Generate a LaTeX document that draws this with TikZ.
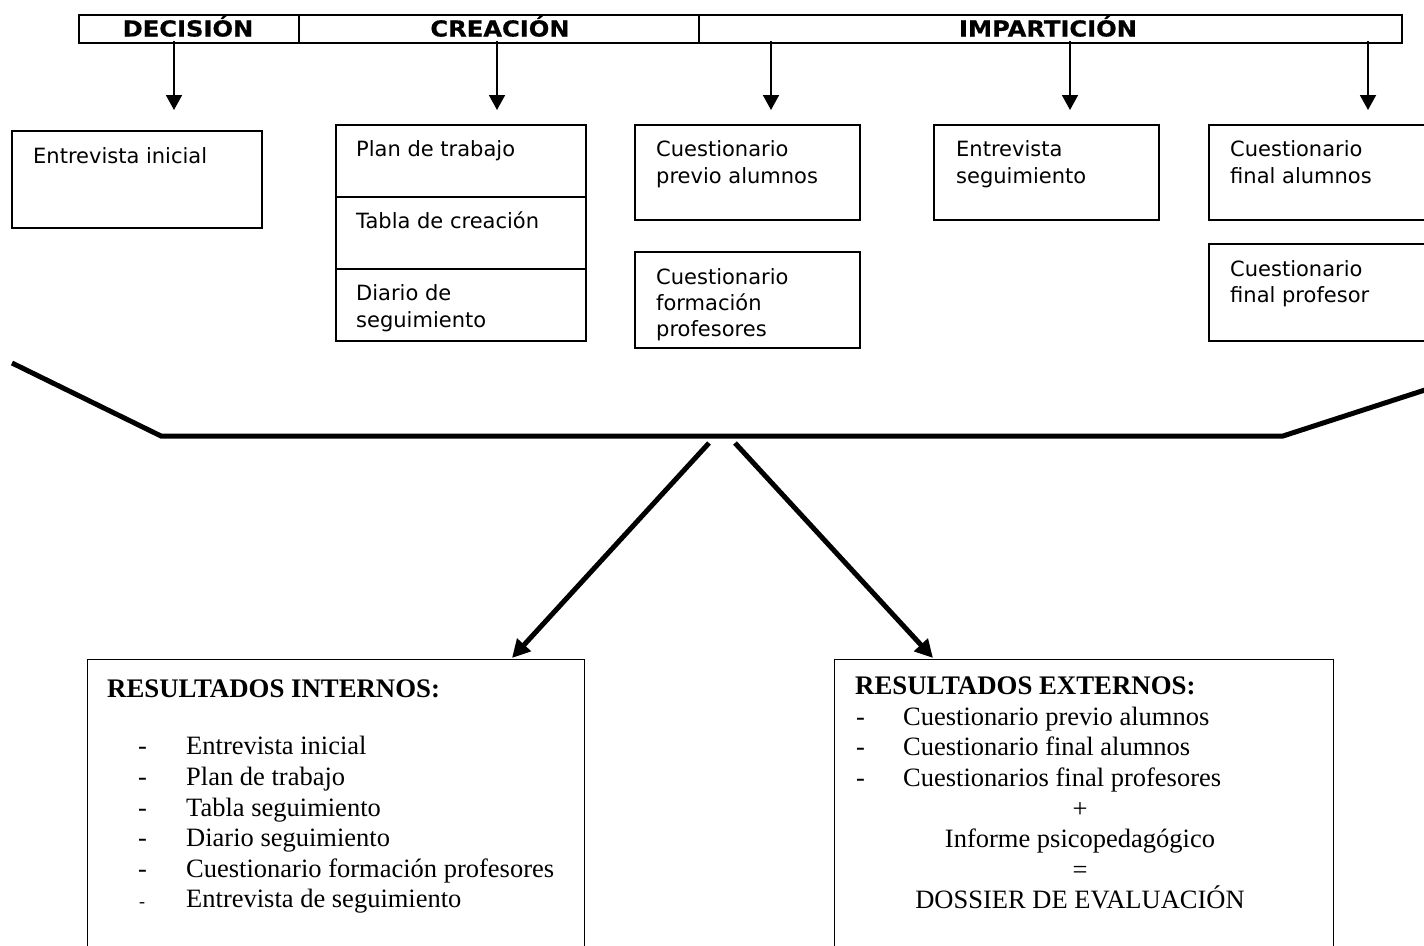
\documentclass[tikz,border=0pt]{standalone}
\usepackage{fontspec}
\setmainfont{Liberation Serif}
\newfontfamily\vfont{DejaVu Sans}
\newfontfamily\hfont{DejaVu Sans}[FakeStretch=1.1,FakeBold=0.6]
\usetikzlibrary{arrows.meta}
\begin{document}
\begin{tikzpicture}[x=1pt,y=-1pt,
  bx/.style={draw,line width=1.8pt,inner sep=0pt,anchor=north west},
  tl/.style={anchor=base west,inner sep=0pt,font=\vfont\fontsize{21}{25}\selectfont},
  hl/.style={anchor=base,inner sep=0pt,font=\hfont\bfseries\fontsize{22}{25}\selectfont},
  rl/.style={anchor=base west,inner sep=0pt,font=\fontsize{26.5}{31}\selectfont},
  rb/.style={anchor=base west,inner sep=0pt,font=\bfseries\fontsize{26.8}{31}\selectfont},
  rc/.style={anchor=base,inner sep=0pt,font=\fontsize{26.5}{31}\selectfont},
  tarr/.style={line width=1.8pt,-{Triangle[length=15pt,width=16pt]}},
  barr/.style={line width=5pt,-{Triangle[length=18pt,width=18pt]}},
  beam/.style={line width=5pt}
]
\useasboundingbox (0,0) rectangle (1424,945);

% header
\node[bx,line width=2.2pt,minimum width=220pt,minimum height=28pt] (hd) at (78,14) {};
\node[bx,line width=2.2pt,minimum width=400pt,minimum height=28pt] (hc) at (298,14) {};
\node[bx,line width=2.2pt,minimum width=703pt,minimum height=28pt] (hi) at (698,14) {};
\node[hl] (thd) at (188,36.5) {DECISIÓN};
\node[hl] (thc) at (500,36.5) {CREACIÓN};
\node[hl] (thi) at (1048,36.5) {IMPARTICIÓN};

% header arrows
\foreach \i/\x in {1/174,2/497,3/771,4/1070,5/1368}{
  \coordinate (s\i) at (\x,41);
  \coordinate (e\i) at (\x,110);
  \draw[tarr] (s\i) -- (e\i);
}

% top boxes
\node[bx,minimum width=250pt,minimum height=97pt] (b1) at (11,130) {};
\node[tl] (t1) at (33,163) {Entrevista inicial};

\node[bx,minimum width=250pt,minimum height=72pt] (c1) at (335,124) {};
\node[bx,minimum width=250pt,minimum height=72pt] (c2) at (335,196) {};
\node[bx,minimum width=250pt,minimum height=72pt] (c3) at (335,268) {};
\node[tl] (tc1) at (356,156) {Plan de trabajo};
\node[tl] (tc2) at (356,228) {Tabla de creación};
\node[tl] (tc3a) at (356,300) {Diario de};
\node[tl] (tc3b) at (356,327) {seguimiento};

\node[bx,minimum width=225pt,minimum height=95pt] (p1b) at (634,124) {};
\node[tl] (tp1a) at (656,156) {Cuestionario};
\node[tl] (tp1b) at (656,183) {previo alumnos};

\node[bx,minimum width=225pt,minimum height=96pt] (p2b) at (634,251) {};
\node[tl] (tp2a) at (656,284) {Cuestionario};
\node[tl] (tp2b) at (656,310) {formación};
\node[tl] (tp2c) at (656,336) {profesores};

\node[bx,minimum width=225pt,minimum height=95pt] (sb) at (933,124) {};
\node[tl] (tsa) at (956,156) {Entrevista};
\node[tl] (tsb) at (956,183) {seguimiento};

\node[bx,minimum width=225pt,minimum height=95pt] (fa) at (1208,124) {};
\node[tl] (tfa1) at (1230,156) {Cuestionario};
\node[tl] (tfa2) at (1230,183) {final alumnos};

\node[bx,minimum width=225pt,minimum height=97pt] (fp) at (1208,243) {};
\node[tl] (tfp1) at (1230,276) {Cuestionario};
\node[tl] (tfp2) at (1230,302) {final profesor};

% beam
\coordinate (m1) at (12,363);
\coordinate (m2) at (161,436);
\coordinate (m3) at (1283,436);
\coordinate (m4) at (1428,389);
\draw[beam] (m1) -- (m2) -- (m3) -- (m4);

% result arrows
\coordinate (q1) at (709,443);
\coordinate (r1) at (512,658);
\coordinate (q2) at (735,443);
\coordinate (r2) at (933,658);
\draw[barr] (q1) -- (r1);
\draw[barr] (q2) -- (r2);

% bottom boxes
\node[bx,line width=1.4pt,minimum width=497pt,minimum height=300pt] (bl) at (87,659) {};
\node[bx,line width=1.4pt,minimum width=499pt,minimum height=300pt] (br) at (834,659) {};

\node[rb] (ri) at (107,697) {RESULTADOS INTERNOS:};
\foreach \j/\y/\t in {1/754/Entrevista inicial,2/785/Plan de trabajo,3/816/Tabla seguimiento,4/846/Diario seguimiento,5/877/Cuestionario formación profesores}{
  \node[rl] (di\j) at (138,\y) {-};
  \node[rl] (li\j) at (186,\y) {\t};
}
\node[anchor=base west,inner sep=0pt,font=\fontsize{18}{20}\selectfont] (di6) at (139,907) {-};
\node[rl] (li6) at (186,907) {Entrevista de seguimiento};

\node[rb] (re) at (855,694) {RESULTADOS EXTERNOS:};
\foreach \j/\y/\t in {1/725/Cuestionario previo alumnos,2/755/Cuestionario final alumnos,3/786/Cuestionarios final profesores}{
  \node[rl] (de\j) at (856,\y) {-};
  \node[rl] (le\j) at (903,\y) {\t};
}
\node[rc] (plus) at (1080,817) {+};
\node[rc] (inf) at (1080,847) {Informe psicopedagógico};
\node[rc] (eq) at (1080,878) {=};
\node[rc] (dos) at (1080,908) {DOSSIER DE EVALUACIÓN};
\end{tikzpicture}
\end{document}
